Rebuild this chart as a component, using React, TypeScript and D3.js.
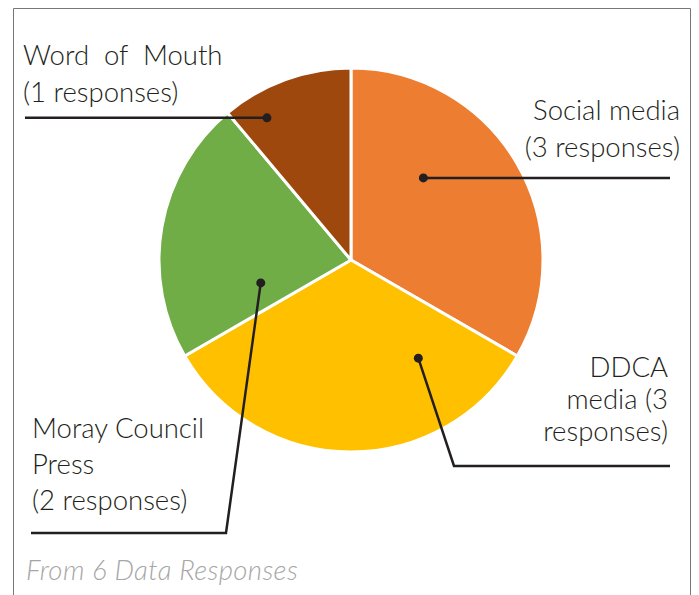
import * as d3 from 'd3';
import React, { useEffect, useRef } from 'react';

// slice data, clockwise from 12 o'clock
const categories = ['Social media', 'DDCA media', 'Moray Council Press', 'Word of Mouth'];
const responses = [3, 3, 2, 1];
const colors = ['#ED7D31', '#FFC000', '#70AD47', '#9E480E'];

// label text lines per slice
const labelLines = [
    ['Social media', '(3 responses)'],
    ['DDCA', 'media (3', 'responses)'],
    ['Moray Council', 'Press', '(2 responses)'],
    ['Word  of  Mouth', '(1 responses)'],
];

const W = 699;
const H = 595;
const FONT = 'Lato, "Open Sans", sans-serif';

const App: React.FC = () => {
    const svgRef = useRef<SVGSVGElement | null>(null);

    useEffect(() => {
        const svg = d3.select(svgRef.current);
        svg.selectAll('*').remove();

        const cx = 351;
        const cy = 260;
        const radius = 192;

        // outer frame (cut off at bottom)
        svg.append('path')
            .attr('d', `M13.5,${H + 2} L13.5,8.5 L690.5,8.5 L690.5,${H + 2}`)
            .attr('fill', 'none')
            .attr('stroke', '#777')
            .attr('stroke-width', 1);

        const pie = d3.pie<number>().sort(null).value(d => d);
        const arcs = pie(responses);
        const arc = d3.arc<d3.PieArcDatum<number>>().innerRadius(0).outerRadius(radius);

        const g = svg.append('g').attr('transform', `translate(${cx},${cy})`);

        g.selectAll('.slice')
            .data(arcs)
            .enter()
            .append('path')
            .attr('class', 'slice')
            .attr('d', arc)
            .attr('fill', (d, i) => colors[i])
            .attr('stroke', '#fff')
            .attr('stroke-width', 3)
            .attr('stroke-linejoin', 'round');

        // leader anchors: angle offset inside slice (fraction) and radius fraction
        const anchors = [
            { t: 0.345, r: 0.57 },
            { t: 0.213, r: 0.62 },
            { t: 0.197, r: 0.485 },
            { t: 0.235, r: 0.86 },
        ];
        // leader routes after the dot: list of [x, y] page points (y 0 = keep dot's y)
        const routes: [number, number][][] = [
            [[670, 0]],
            [[454, 466], [670, 466]],
            [[226, 533], [31, 533]],
            [[25, 0]],
        ];

        arcs.forEach((a, i) => {
            const ang = a.startAngle + (a.endAngle - a.startAngle) * anchors[i].t;
            const rr = radius * anchors[i].r;
            const px = cx + rr * Math.sin(ang);
            const py = cy - rr * Math.cos(ang);
            const pts: [number, number][] = [[px, py]];
            routes[i].forEach(([x, y]) => pts.push([x, y === 0 ? py : y]));
            svg.append('path')
                .attr('d', d3.line()(pts))
                .attr('fill', 'none')
                .attr('stroke', '#231f20')
                .attr('stroke-width', 2.5);
            svg.append('circle')
                .attr('cx', px)
                .attr('cy', py)
                .attr('r', 4.5)
                .attr('fill', '#231f20');
        });

        // text labels
        const labelPos = [
            { x: 680, y: 120, anchor: 'end', lh: 37 },
            { x: 668, y: 377, anchor: 'end', lh: 32 },
            { x: 32, y: 438, anchor: 'start', lh: 36 },
            { x: 23, y: 65, anchor: 'start', lh: 37 },
        ];
        labelLines.forEach((lines, i) => {
            const t = svg.append('text')
                .attr('x', labelPos[i].x)
                .attr('y', labelPos[i].y)
                .attr('text-anchor', labelPos[i].anchor)
                .attr('font-family', FONT)
                .attr('font-weight', 300)
                .attr('font-size', 27.5)
                .attr('fill', '#231f20')
                .style('white-space', 'pre');
            lines.forEach((line, j) => {
                t.append('tspan')
                    .attr('x', labelPos[i].x)
                    .attr('dy', j === 0 ? 0 : labelPos[i].lh)
                    .text(line);
            });
        });

        svg.append('text')
            .attr('x', 26)
            .attr('y', 580)
            .attr('font-family', FONT)
            .attr('font-style', 'italic')
            .attr('font-weight', 300)
            .attr('font-size', 27.5)
            .attr('letter-spacing', 0.4)
            .attr('fill', '#a6a6a6')
            .text('From 6 Data Responses');
    }, []);

    return (
        <svg
            ref={svgRef}
            width={W}
            height={H}
            style={{ position: 'absolute', left: 0, top: 0, background: '#fff' }}
        />
    );
};

export default App;
